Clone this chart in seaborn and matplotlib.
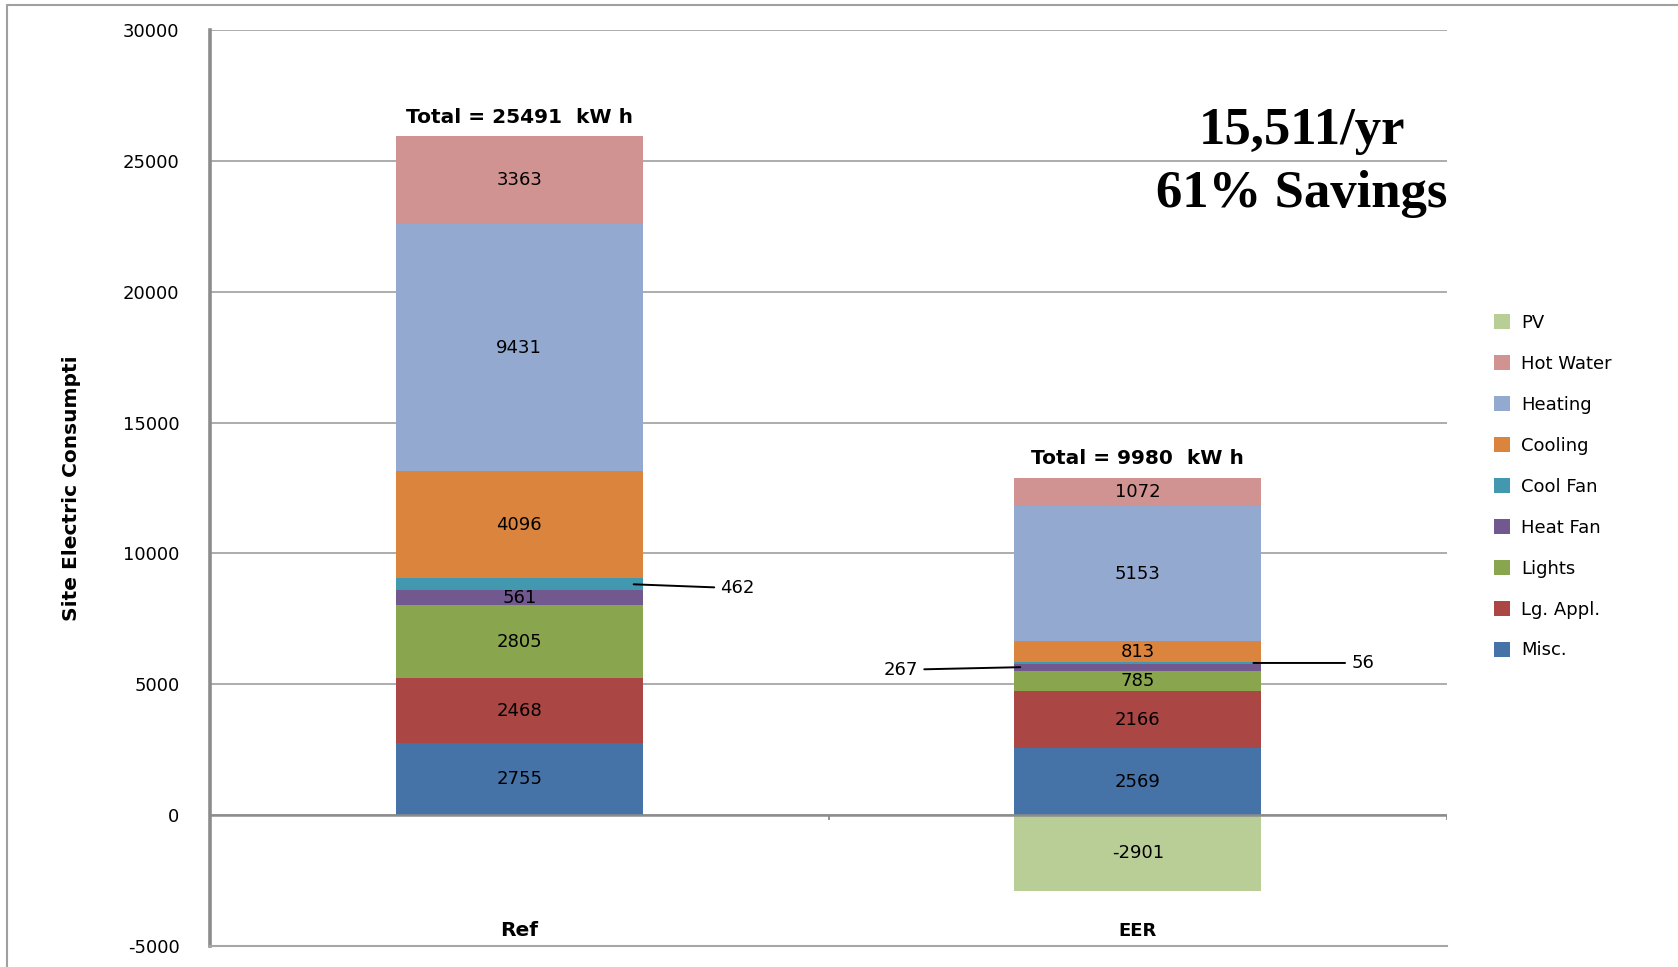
import numpy as np
import matplotlib
matplotlib.use('Agg')
import matplotlib.pyplot as plt
import seaborn as sns
from matplotlib.patches import Patch
from matplotlib.lines import Line2D

# values (kWh/yr)
categories = ['Ref', 'EER']
misc = [2755, 2569]
lg_appl = [2468, 2166]
lights = [2805, 785]
heat_fan = [561, 267]
cool_fan = [462, 56]
cooling = [4096, 813]
heating = [9431, 5153]
hot_water = [3363, 1072]
pv = [0, -2901]
total_labels = ['Total = 25491  kW h', 'Total = 9980  kW h']
yticks = [-5000, 0, 5000, 10000, 15000, 20000, 25000, 30000]

stack_names = ['Misc.', 'Lg. Appl.', 'Lights', 'Heat Fan', 'Cool Fan', 'Cooling', 'Heating', 'Hot Water']
stack_vals = [misc, lg_appl, lights, heat_fan, cool_fan, cooling, heating, hot_water]
colors = {
    'Misc.': '#4572A7', 'Lg. Appl.': '#AA4643', 'Lights': '#89A54E',
    'Heat Fan': '#71588F', 'Cool Fan': '#4198AF', 'Cooling': '#DB843D',
    'Heating': '#93A9CF', 'Hot Water': '#D19392', 'PV': '#B9CD96',
}

sns.set_style('white')
plt.rcParams['font.family'] = ['DejaVu Sans']
plt.rcParams['text.color'] = 'black'
plt.rcParams['axes.labelcolor'] = 'black'
plt.rcParams['ytick.labelcolor'] = 'black'

vals = np.array(stack_vals, dtype=float)
cum = vals.cumsum(axis=0)
centers = cum - vals / 2

fig = plt.figure(figsize=(16.78, 9.67), dpi=100)
ax = fig.add_axes([210 / 1678, 1 - 946 / 967, (1447 - 210) / 1678, (946 - 30) / 967])

# stacked bars: draw cumulative totals top-down so each layer covers the one above
for i in range(len(stack_names) - 1, -1, -1):
    sns.barplot(x=categories, y=cum[i], color=colors[stack_names[i]], saturation=1,
                width=0.4, errorbar=None, ax=ax, zorder=2, linewidth=0)
sns.barplot(x=categories, y=pv, color=colors['PV'], saturation=1,
            width=0.4, errorbar=None, ax=ax, zorder=2, linewidth=0)

ax.set_xlim(-0.5, 1.5)
ax.set_ylim(-5000, 30000)
ax.set_yticks(yticks)
ax.set_yticklabels([str(t) for t in yticks], fontsize=13)
ax.set_xticks([])
ax.set_axisbelow(True)
ax.yaxis.grid(True, color='#a6a6a6', lw=1.3, zorder=0)
ax.tick_params(axis='y', length=9, width=1.3, color='#8c8c8c', pad=13, direction='out')
for s in ['top', 'right']:
    ax.spines[s].set_visible(False)
ax.spines['left'].set_color('#8c8c8c')
ax.spines['left'].set_linewidth(2.6)
ax.spines['bottom'].set_color('#a6a6a6')
ax.spines['bottom'].set_linewidth(1.5)

# horizontal axis at zero with category tick marks
ax.axhline(0, color='#8c8c8c', lw=1.8, zorder=4)
ax.vlines([-0.5, 0.5, 1.5], -170, 0, color='#8c8c8c', lw=1.3, zorder=4)

ax.set_ylabel('Site Electric Consumpti', fontsize=14.5, fontweight='bold', labelpad=30)

# segment labels
callouts = {('Cool Fan', 0), ('Cool Fan', 1), ('Heat Fan', 1)}
for i, name in enumerate(stack_names):
    for j in range(len(categories)):
        if (name, j) in callouts:
            continue
        ax.text(j, centers[i, j], str(int(vals[i, j])), ha='center', va='center',
                fontsize=13, zorder=5)
ax.text(1, pv[1] / 2, str(pv[1]), ha='center', va='center', fontsize=13, zorder=5)

line_kw = dict(arrowstyle='-', color='black', lw=1.4, shrinkA=2, shrinkB=0)
ci = stack_names.index('Cool Fan')
hi = stack_names.index('Heat Fan')
ax.annotate(str(cool_fan[0]), xy=(0.185, centers[ci, 0]), xytext=(0.325, centers[ci, 0] - 150),
            ha='left', va='center', fontsize=13, arrowprops=line_kw, zorder=5)
ax.annotate(str(heat_fan[1]), xy=(0.81, centers[hi, 1]), xytext=(0.645, centers[hi, 1] - 100),
            ha='right', va='center', fontsize=13, arrowprops=line_kw, zorder=5)
ax.annotate(str(cool_fan[1]), xy=(1.187, centers[ci, 1]), xytext=(1.345, centers[ci, 1]),
            ha='left', va='center', fontsize=13, arrowprops=line_kw, zorder=5)

# totals above bars
for j, lab in enumerate(total_labels):
    ax.annotate(lab, xy=(j, cum[-1, j]), xytext=(0, 7), textcoords='offset points',
                ha='center', va='bottom', fontsize=14.5, fontweight='bold')

# category labels at the bottom
for j, c in enumerate(categories):
    ax.annotate(c, xy=(j, -5000), xytext=(0, 4), textcoords='offset points',
                ha='center', va='bottom', fontsize=14.5 if j == 0 else 13, fontweight='bold')

fig.text(1302 / 1678, 1 - 131 / 967, '15,511/yr', ha='center', va='center',
         fontsize=38, fontweight='bold', family='Liberation Serif', color='black')
fig.text(1302 / 1678, 1 - 194 / 967, '61% Savings', ha='center', va='center',
         fontsize=38, fontweight='bold', family='Liberation Serif', color='black')

legend_order = ['PV', 'Hot Water', 'Heating', 'Cooling', 'Cool Fan', 'Heat Fan', 'Lights', 'Lg. Appl.', 'Misc.']
handles = [Patch(facecolor=colors[n], edgecolor='none') for n in legend_order]
fig.legend(handles, legend_order, loc='upper left', bbox_to_anchor=(1494 / 1678, 1 - 314 / 967),
           frameon=False, fontsize=13, handlelength=0.9, handleheight=0.9,
           handletextpad=0.6, labelspacing=1.27, borderpad=0, borderaxespad=0)

# outer chart frame (left and top edges visible)
fig.add_artist(Line2D([7 / 1678, 7 / 1678], [0, 1 - 5 / 967], color='#a0a0a0', lw=1.5))
fig.add_artist(Line2D([7 / 1678, 1], [1 - 5 / 967, 1 - 5 / 967], color='#a0a0a0', lw=1.5))

fig.savefig('out.png', dpi=100)
